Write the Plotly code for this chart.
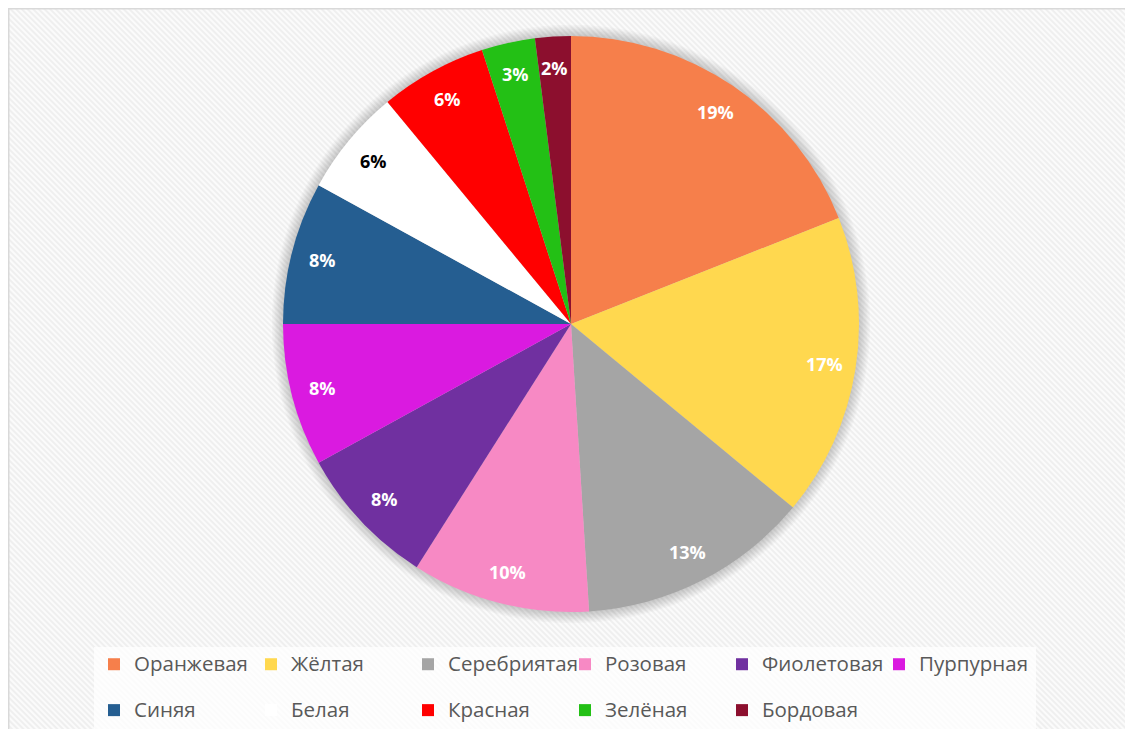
import base64
import math
import plotly.graph_objects as go

# ---- data ----
categories = ["Оранжевая", "Жёлтая", "Серебриятая", "Розовая", "Фиолетовая", "Пурпурная",
              "Синяя", "Белая", "Красная", "Зелёная", "Бордовая"]
values = [19, 17, 13, 10, 8, 8, 8, 6, 6, 3, 2]
colors = ["#F67F4B", "#FFD84F", "#A5A5A5", "#F789C4", "#7030A0", "#DA1AE0",
          "#255E91", "#FFFFFF", "#FF0000", "#23C015", "#8C0F2E"]
label_colors = ["white", "white", "white", "white", "white", "white",
                "white", "black", "white", "white", "white"]

# the page body adds an 8px margin; figure coords = screen coords - 8
OFF = 8
W, H = 1133 - 2 * OFF, 737 - 2 * OFF
ML, MR = 0, 100          # right margin limits legend rows to 6 entries
PW = W - ML - MR          # plot-area width in pixels
cx, cy, R = 571 - OFF, 324 - OFF, 288  # pie centre / radius in figure pixels

def px(x):
    return (x - ML) / PW

def py(y):
    return (H - y) / H

# background stripes (Excel-style pattern fill)
svg = (
    f"<svg xmlns='http://www.w3.org/2000/svg' width='{W}' height='{H}'>"
    "<defs><pattern id='p' width='4' height='4' patternUnits='userSpaceOnUse' "
    "patternTransform='rotate(-45)'>"
    "<rect width='4' height='4' fill='#FBFBFB'/><rect width='2' height='4' fill='#EFEFEF'/>"
    "</pattern></defs><rect width='100%' height='100%' fill='url(#p)'/></svg>"
)
bg_src = "data:image/svg+xml;base64," + base64.b64encode(svg.encode()).decode()

legend_labels = [f"<span style='font-size:20.5px'>{c}</span><br> " for c in categories]

fig = go.Figure()
fig.add_trace(go.Pie(
    labels=legend_labels,
    values=values,
    sort=False,
    direction="clockwise",
    rotation=0,
    marker=dict(colors=colors, line=dict(width=0)),
    textinfo="none",
    hovertext=categories,
    hoverinfo="text+percent",
    domain=dict(x=[px(cx - R), px(cx + R)], y=[py(cy + R), py(cy - R)]),
))

# percentage labels placed from the values
total = sum(values)
annotations = []
cum = 0
for v, lc in zip(values, label_colors):
    mid = (cum + v / 2) / total * 2 * math.pi
    cum += v
    rl = 0.89 * R
    annotations.append(dict(
        x=px(cx + rl * math.sin(mid)), y=py(cy - rl * math.cos(mid)),
        xref="paper", yref="paper", showarrow=False,
        text=f"{round(v / total * 100)}%",
        font=dict(family="Open Sans", size=18, color=lc, weight="bold"),
        xanchor="center", yanchor="middle",
    ))

# pie soft shadow
shapes = []
for k in range(1, 9):
    rr = R + k * 1.4
    shapes.append(dict(
        type="circle", xref="paper", yref="paper", layer="below",
        x0=px(cx - rr), x1=px(cx + rr), y0=py(cy + rr), y1=py(cy - rr),
        fillcolor="rgba(0,0,0,0.022)", line=dict(width=0),
    ))
# chart border (top and left edges visible)
shapes.append(dict(
    type="path", xref="paper", yref="paper", layer="above",
    path=f"M {px(0.75)},{py(H)} L {px(0.75)},{py(0.75)} L {px(W)},{py(0.75)}",
    line=dict(color="#D9D9D9", width=1.5),
))

fig.update_layout(
    width=W, height=H,
    margin=dict(l=ML, r=MR, t=0, b=0, autoexpand=False),
    paper_bgcolor="white",
    font=dict(family="Open Sans", color="#595959"),
    showlegend=True,
    legend=dict(
        orientation="h", x=px(94 - OFF), y=py(647 - OFF), xanchor="left", yanchor="top",
        font=dict(size=16.5, color="#595959", family="Open Sans"),
        entrywidth=112, entrywidthmode="pixels", valign="top",
        bgcolor="rgba(255,255,255,0.75)", traceorder="normal",
    ),
    images=[dict(
        source=bg_src, xref="paper", yref="paper",
        x=px(0), y=1, sizex=W / PW, sizey=1,
        xanchor="left", yanchor="top", sizing="stretch", layer="below",
    )],
    shapes=shapes,
    annotations=annotations,
)

fig.write_html("out.html")
